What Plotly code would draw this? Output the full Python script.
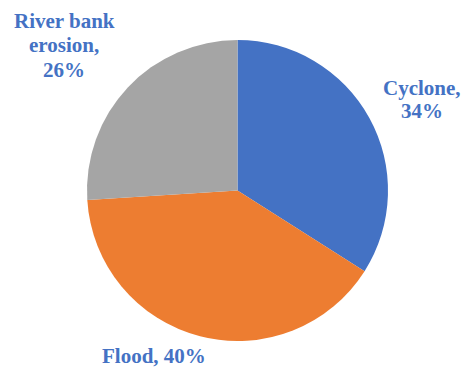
import plotly.graph_objects as go

# Share of hazards
labels = ["Cyclone", "Flood", "River bank erosion"]
values = [34, 40, 26]
colors = ["#4472C4", "#ED7D31", "#A5A5A5"]

# Label text lines for each slice (wrapped as drawn)
label_lines = [["Cyclone,", "{v}%"], ["Flood, {v}%"], ["River bank", "erosion,", "{v}%"]]
# Label line centres in pixels: x, then y (from top) of each line
label_pos = [(422, [88, 111]), (154, [356]), (64, [21, 45, 70])]

W, H = 464, 372
cx, cy, r = 237.5, 190.5, 150.5

fig = go.Figure(go.Pie(
    labels=labels,
    values=values,
    sort=False,
    direction="clockwise",
    rotation=0,
    marker=dict(colors=colors, line=dict(width=0)),
    textinfo="none",
    hoverinfo="label+percent",
    showlegend=False,
    domain=dict(x=[(cx - r) / W, (cx + r) / W], y=[1 - (cy + r) / H, 1 - (cy - r) / H]),
))

for lines, v, (px, pys) in zip(label_lines, values, label_pos):
    for line, py in zip(lines, pys):
        fig.add_annotation(
            x=px / W, y=1 - py / H, xref="paper", yref="paper",
            text="<b>" + line.format(v=v) + "</b>",
            showarrow=False, xanchor="center", yanchor="middle", align="center",
            font=dict(family="Liberation Serif", size=21, color="#4472C4"),
        )

fig.update_layout(
    width=W, height=H,
    margin=dict(l=0, r=0, t=0, b=0),
    paper_bgcolor="white",
    plot_bgcolor="white",
)

fig.write_html("out.html")
